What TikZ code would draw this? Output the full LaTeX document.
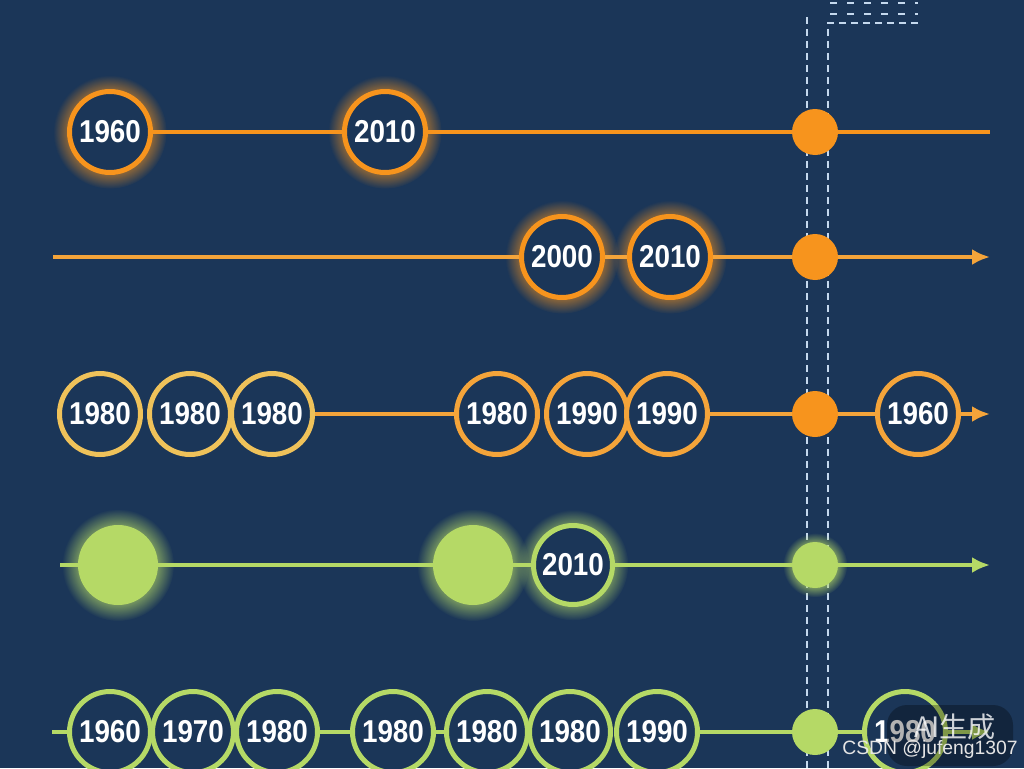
\documentclass[tikz,border=0pt]{standalone}
\usepackage{fontspec}
\setmainfont{Liberation Sans}
\newfontfamily\yearfont[FakeStretch=0.88]{Liberation Sans}
\newfontfamily\cjk{Noto Sans CJK SC}
\usepackage{tikz}
\usetikzlibrary{positioning}
\usetikzlibrary{arrows.meta}
\usetikzlibrary{shadows}
\usetikzlibrary{fadings}
\definecolor{Navy}{HTML}{1B3658}
\definecolor{Amber}{HTML}{F7941D}
\definecolor{LightAmber}{HTML}{F4A43A}
\definecolor{Gold}{HTML}{EFC25A}
\definecolor{Lime}{HTML}{B5D966}
\definecolor{Guide}{HTML}{C5D9EE}
\pgfdeclareradialshading{glowshade}{\pgfpointorigin}{color(0bp)=(pgftransparent!0); color(16bp)=(pgftransparent!0); color(25bp)=(pgftransparent!100); color(50bp)=(pgftransparent!100)}
\pgfdeclarefading{softglow}{\pgfuseshading{glowshade}}

\begin{document}
\begin{tikzpicture}[x=0.02cm, y=-0.02cm, >={Latex[length=0.36cm,width=0.32cm]},
    yr/.style={circle, draw=#1, fill=Navy, line width=0.1cm, minimum size=1.62cm, inner sep=0pt,
      text=white, font=\yearfont\bfseries\fontsize{18}{18}\selectfont},
    glow/.style={circular drop shadow={shadow xshift=0pt, shadow yshift=0pt, shadow scale=1.4,
      fill=#1, opacity=0.7, path fading=softglow}},
    dot/.style={circle, fill=#1, minimum size=0.92cm, inner sep=0pt},
    bigdot/.style={circle, fill=#1, minimum size=1.6cm, inner sep=0pt},
    tl/.style={line width=0.08cm, draw=#1},
    guide/.style={Guide, line width=0.05cm}]
      \clip (0,0) rectangle (1024,768);
      \fill[Navy] (0,0) rectangle (1024,768);

      \draw[guide, dash pattern=on 0.14cm off 0.1cm] (807,17) -- (807,768);
      \draw[guide, dash pattern=on 0.14cm off 0.1cm] (918,23) -- (828,23) -- (828,768);
      \foreach \y in {3, 14}
      \draw[guide, dash pattern=on 0.14cm off 0.2cm] (830,\y) -- (918,\y);

      % row 1
      \node[yr=Amber, glow=Amber] (r1a) at (110,132) {1960};
      \node[yr=Amber, glow=Amber] (r1b) at (385,132) {2010};
      \node[dot=Amber] (r1d) at (815,132) {};
      \coordinate (r1e) at (990,132);
      \draw[tl=Amber] (r1a) -- (r1b) -- (r1d) -- (r1e);

      % row 2
      \coordinate (r2s) at (53,257);
      \node[yr=Amber, glow=Amber] (r2a) at (562,257) {2000};
      \node[yr=Amber, glow=Amber] (r2b) at (670,257) {2010};
      \node[dot=Amber] (r2d) at (815,257) {};
      \coordinate (r2e) at (990,257);
      \draw[tl=LightAmber] (r2s) -- (r2a) -- (r2b) -- (r2d);
      \draw[tl=LightAmber, ->] (r2d) -- (r2e);

      % row 3
      \node[yr=Gold] (r3a) at (100,414) {1980};
      \node[yr=Gold] (r3b) at (190,414) {1980};
      \node[yr=Gold] (r3c) at (272,414) {1980};
      \node[yr=LightAmber] (r3d) at (497,414) {1980};
      \node[yr=LightAmber] (r3e) at (587,414) {1990};
      \node[yr=LightAmber] (r3f) at (667,414) {1990};
      \node[dot=Amber] (r3g) at (815,414) {};
      \node[yr=LightAmber] (r3h) at (918,414) {1960};
      \coordinate (r3e') at (990,414);
      \draw[tl=LightAmber] (r3c) -- (r3d) (r3f) -- (r3g) -- (r3h);
      \draw[tl=LightAmber, ->] (r3h) -- (r3e');

      % row 4
      \coordinate (r4s) at (60,565);
      \node[bigdot=Lime, glow=Lime] (r4a) at (118,565) {};
      \node[bigdot=Lime, glow=Lime] (r4b) at (473,565) {};
      \node[yr=Lime, glow=Lime, minimum size=1.58cm] (r4c) at (573,565) {2010};
      \node[dot=Lime, glow=Lime] (r4d) at (815,565) {};
      \coordinate (r4e) at (990,565);
      \draw[tl=Lime] (r4s) -- (r4a) -- (r4b) -- (r4c) -- (r4d);
      \draw[tl=Lime, ->] (r4d) -- (r4e);

      % row 5
      \coordinate (r5s) at (52,732);
      \node[yr=Lime] (r5a) at (110,732) {1960};
      \node[yr=Lime] (r5b) at (193,732) {1970};
      \node[yr=Lime] (r5c) at (277,732) {1980};
      \node[yr=Lime] (r5d) at (393,732) {1980};
      \node[yr=Lime] (r5e) at (487,732) {1980};
      \node[yr=Lime] (r5f) at (570,732) {1980};
      \node[yr=Lime] (r5g) at (657,732) {1990};
      \node[dot=Lime] (r5h) at (815,732) {};
      \node[yr=Lime] (r5i) at (905,732) {1980};
      \coordinate (r5e') at (990,732);
      \draw[tl=Lime] (r5s) -- (r5a) (r5c) -- (r5d) -- (r5e) (r5g) -- (r5h) -- (r5i);
      \draw[tl=Lime, ->] (r5i) -- (r5e');

      \fill[black, opacity=0.3, rounded corners=0.4cm] (887,705) rectangle (1013,766);
      \node[text=white, opacity=0.8, font=\cjk\fontsize{16}{16}\selectfont] (ai) at (955,727) {AI生成};
      \node[text=white!80!gray, font=\fontsize{11}{11}\selectfont] (wm) at (930,749) {CSDN @jufeng1307};
    \end{tikzpicture}
\end{document}
